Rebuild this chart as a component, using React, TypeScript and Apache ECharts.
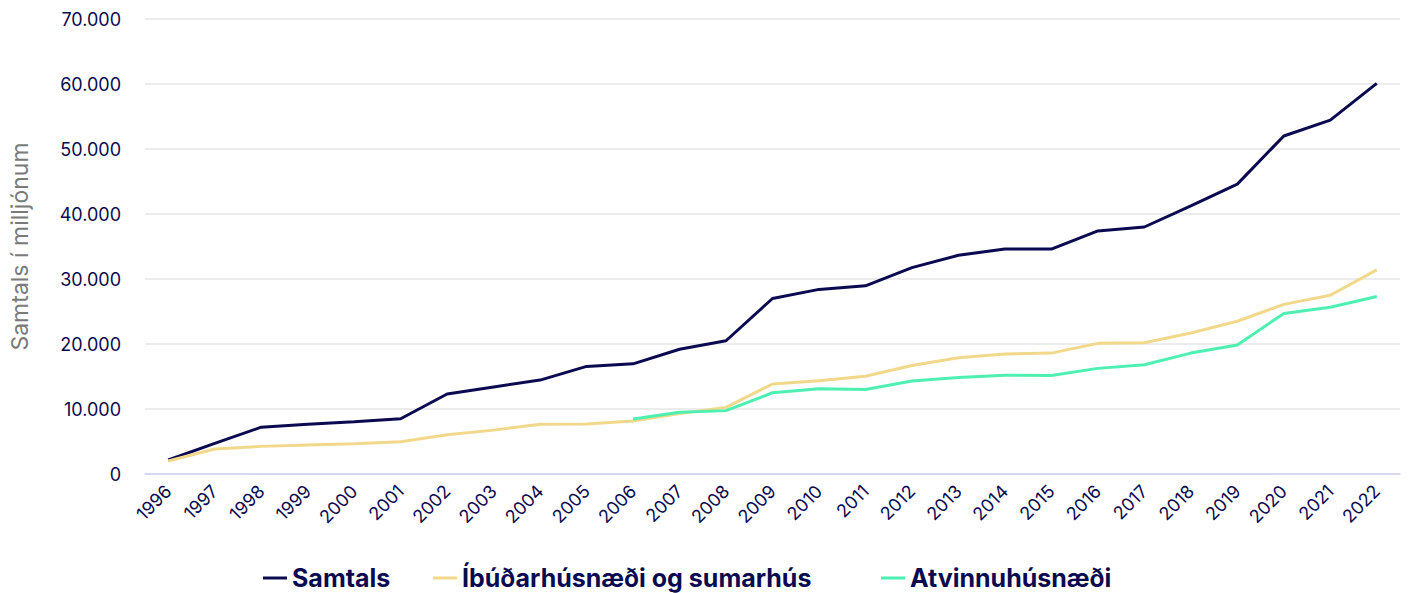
import React, { useEffect, useRef } from "react";
import * as echarts from "echarts";

const years = ["1996","1997","1998","1999","2000","2001","2002","2003","2004","2005","2006","2007","2008","2009","2010","2011","2012","2013","2014","2015","2016","2017","2018","2019","2020","2021","2022"];
const samtals = [2150, 4700, 7200, 7650, 8050, 8500, 12300, 13400, 14450, 16550, 16950, 19200, 20500, 27000, 28400, 28950, 31750, 33650, 34600, 34600, 37400, 38000, 41250, 44600, 52000, 54450, 60100];
const ibudar = [2000, 3850, 4250, 4450, 4650, 4950, 6050, 6750, 7650, 7700, 8150, 9300, 10250, 13850, 14350, 15050, 16700, 17900, 18450, 18600, 20100, 20200, 21700, 23500, 26100, 27500, 31400];
const atvinnu = [null, null, null, null, null, null, null, null, null, null, 8450, 9500, 9750, 12500, 13100, 13000, 14300, 14850, 15200, 15150, 16250, 16800, 18600, 19850, 24700, 25650, 27300];
const seriesNames = ["Samtals", "Íbúðarhúsnæði og sumarhús", "Atvinnuhúsnæði"];
const yTicks = { min: 0, max: 70000, interval: 10000 };

const NAVY = "#0b0a50";
const YELLOW = "#f1d88a";
const GREEN = "#4ef0b2";
const FONT = "Inter, 'Noto Sans', sans-serif";

export default function App() {
  const ref = useRef<HTMLDivElement>(null);
  useEffect(() => {
    document.body.style.margin = "0";
    if (!ref.current) return;
    const chart = echarts.init(ref.current, undefined, { renderer: "svg" });
    const legendBase = {
      bottom: 0,
      padding: [0, 5, 0, 5],
      itemWidth: 24,
      itemHeight: 3,
      icon: "rect",
      textStyle: { color: NAVY, fontSize: 25, lineHeight: 30, fontWeight: "bold", fontFamily: FONT },
    };
    chart.setOption({
      animation: false,
      textStyle: { fontFamily: FONT },
      grid: { left: 142, right: 10, top: 19, bottom: 119, containLabel: false },
      legend: [
        { ...legendBase, left: 258, data: [seriesNames[0]] },
        { ...legendBase, left: 428, data: [seriesNames[1]] },
        { ...legendBase, left: 876, data: [seriesNames[2]] },
      ],
      xAxis: {
        type: "category",
        data: years,
        boundaryGap: true,
        axisLine: { lineStyle: { color: "#c9d5ee", width: 1.5 } },
        axisTick: { show: false },
        axisLabel: { rotate: 45, color: NAVY, fontSize: 18, interval: 0, margin: 14, fontFamily: FONT },
      },
      yAxis: {
        type: "value",
        min: yTicks.min,
        max: yTicks.max,
        interval: yTicks.interval,
        name: "Samtals í milljónum",
        nameLocation: "middle",
        nameRotate: 90,
        nameGap: 114,
        nameTextStyle: { color: "#7a7a7a", fontSize: 23, fontFamily: FONT },
        axisLine: { show: false },
        axisTick: { show: false },
        splitLine: { lineStyle: { color: "#e6e6e6", width: 1.5 } },
        axisLabel: {
          color: NAVY,
          fontSize: 18,
          margin: 24,
          fontFamily: FONT,
          formatter: (v: number) => String(v).replace(/\B(?=(\d{3})+(?!\d))/g, "."),
        },
      },
      series: [
        { name: seriesNames[0], type: "line", data: samtals, showSymbol: false, symbol: "none", lineStyle: { color: NAVY, width: 3 }, itemStyle: { color: NAVY } },
        { name: seriesNames[1], type: "line", data: ibudar, showSymbol: false, symbol: "none", lineStyle: { color: YELLOW, width: 3 }, itemStyle: { color: YELLOW } },
        { name: seriesNames[2], type: "line", data: atvinnu, showSymbol: false, symbol: "none", lineStyle: { color: GREEN, width: 3 }, itemStyle: { color: GREEN } },
      ],
    });
    return () => chart.dispose();
  }, []);
  return <div ref={ref} style={{ width: 1410, height: 593 }} />;
}
